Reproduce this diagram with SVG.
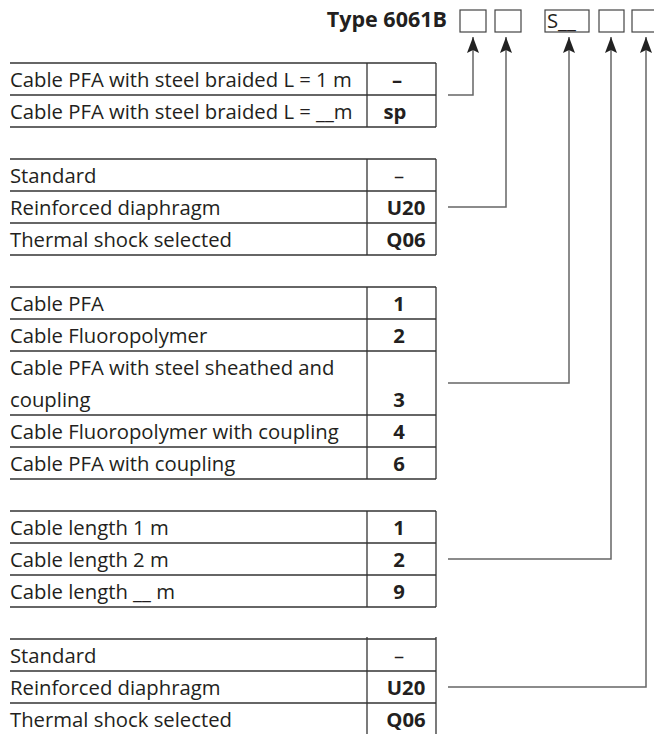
<svg xmlns="http://www.w3.org/2000/svg" width="654" height="734" viewBox="0 0 654 734">
<style>
.t{font-family:"Open Sans","Liberation Sans",sans-serif;font-size:20.3px;fill:#231f20}
.b{font-weight:bold}
.c{text-anchor:middle}
.g line{stroke:#333;stroke-width:1.3}
.box{fill:none;stroke:#444;stroke-width:1.2}
.conn path{fill:none;stroke:#666;stroke-width:1.5}
</style>
<defs>
<marker id="ah" markerUnits="userSpaceOnUse" markerWidth="16" markerHeight="12" refX="16" refY="6" orient="auto" viewBox="0 0 16 12">
<path d="M0,0 L16,6 L0,12 L3,6 Z" fill="#222"/>
</marker>
</defs>
<rect width="654" height="734" fill="#fff"/>
<g id="header">
<text class="t b" x="447" y="27" text-anchor="end" style="font-size:21.5px">Type 6061B</text>
<rect class="box" x="460" y="10" width="26" height="22"/>
<rect class="box" x="495" y="10" width="26" height="22"/>
<rect class="box" x="545" y="10" width="44" height="22"/>
<text class="t" x="547" y="28">S__</text>
<rect class="box" x="599" y="10" width="25" height="22"/>
<rect class="box" x="632" y="10" width="26" height="22"/>
</g>
<g id="table1" class="g">
<line x1="10" y1="63" x2="436" y2="63"/><line x1="10" y1="95" x2="436" y2="95"/><line x1="10" y1="127" x2="436" y2="127"/>
<line x1="367" y1="63" x2="367" y2="127"/><line x1="436" y1="63" x2="436" y2="127"/>
<text class="t" x="10" y="87">Cable PFA with steel braided L = 1 m</text>
<text class="t" x="10" y="119">Cable PFA with steel braided L = __m</text>
<text class="t b c" x="397" y="87">–</text>
<text class="t b c" x="395" y="119">sp</text>
</g>
<g id="table2" class="g">
<line x1="10" y1="159" x2="436" y2="159"/><line x1="10" y1="191" x2="436" y2="191"/><line x1="10" y1="223" x2="436" y2="223"/><line x1="10" y1="255" x2="436" y2="255"/>
<line x1="367" y1="159" x2="367" y2="255"/><line x1="436" y1="159" x2="436" y2="255"/>
<text class="t" x="10" y="183">Standard</text>
<text class="t" x="10" y="215">Reinforced diaphragm</text>
<text class="t" x="10" y="247">Thermal shock selected</text>
<text class="t c" x="399" y="183">–</text>
<text class="t b c" x="406" y="215">U20</text>
<text class="t b c" x="406" y="247">Q06</text>
</g>
<g id="table3" class="g">
<line x1="10" y1="287" x2="436" y2="287"/><line x1="10" y1="319" x2="436" y2="319"/><line x1="10" y1="351" x2="436" y2="351"/><line x1="10" y1="415" x2="436" y2="415"/><line x1="10" y1="447" x2="436" y2="447"/><line x1="10" y1="479" x2="436" y2="479"/>
<line x1="367" y1="287" x2="367" y2="479"/><line x1="436" y1="287" x2="436" y2="479"/>
<text class="t" x="10" y="311">Cable PFA</text>
<text class="t" x="10" y="343">Cable Fluoropolymer</text>
<text class="t" x="10" y="375">Cable PFA with steel sheathed and</text>
<text class="t" x="10" y="407">coupling</text>
<text class="t" x="10" y="439">Cable Fluoropolymer with coupling</text>
<text class="t" x="10" y="471">Cable PFA with coupling</text>
<text class="t b c" x="399" y="311">1</text>
<text class="t b c" x="399" y="343">2</text>
<text class="t b c" x="399" y="407">3</text>
<text class="t b c" x="399" y="439">4</text>
<text class="t b c" x="399" y="471">6</text>
</g>
<g id="table4" class="g">
<line x1="10" y1="511" x2="436" y2="511"/><line x1="10" y1="543" x2="436" y2="543"/><line x1="10" y1="575" x2="436" y2="575"/><line x1="10" y1="607" x2="436" y2="607"/>
<line x1="367" y1="511" x2="367" y2="607"/><line x1="436" y1="511" x2="436" y2="607"/>
<text class="t" x="10" y="535">Cable length 1 m</text>
<text class="t" x="10" y="567">Cable length 2 m</text>
<text class="t" x="10" y="599">Cable length __ m</text>
<text class="t b c" x="399" y="535">1</text>
<text class="t b c" x="399" y="567">2</text>
<text class="t b c" x="399" y="599">9</text>
</g>
<g id="table5" class="g">
<line x1="10" y1="639" x2="436" y2="639"/><line x1="10" y1="671" x2="436" y2="671"/><line x1="10" y1="703" x2="436" y2="703"/>
<line x1="367" y1="637" x2="367" y2="734"/><line x1="436" y1="637" x2="436" y2="734"/>
<text class="t" x="10" y="663">Standard</text>
<text class="t" x="10" y="695">Reinforced diaphragm</text>
<text class="t" x="10" y="727">Thermal shock selected</text>
<text class="t c" x="399" y="663">–</text>
<text class="t b c" x="406" y="695">U20</text>
<text class="t b c" x="406" y="727">Q06</text>
</g>
<g id="connectors" class="conn">
<path d="M448,95 H473 V37" marker-end="url(#ah)"/>
<path d="M448,207 H506 V37" marker-end="url(#ah)"/>
<path d="M448,383 H569 V37" marker-end="url(#ah)"/>
<path d="M448,559 H611 V37" marker-end="url(#ah)"/>
<path d="M448,687 H646 V37" marker-end="url(#ah)"/>
</g>
</svg>
